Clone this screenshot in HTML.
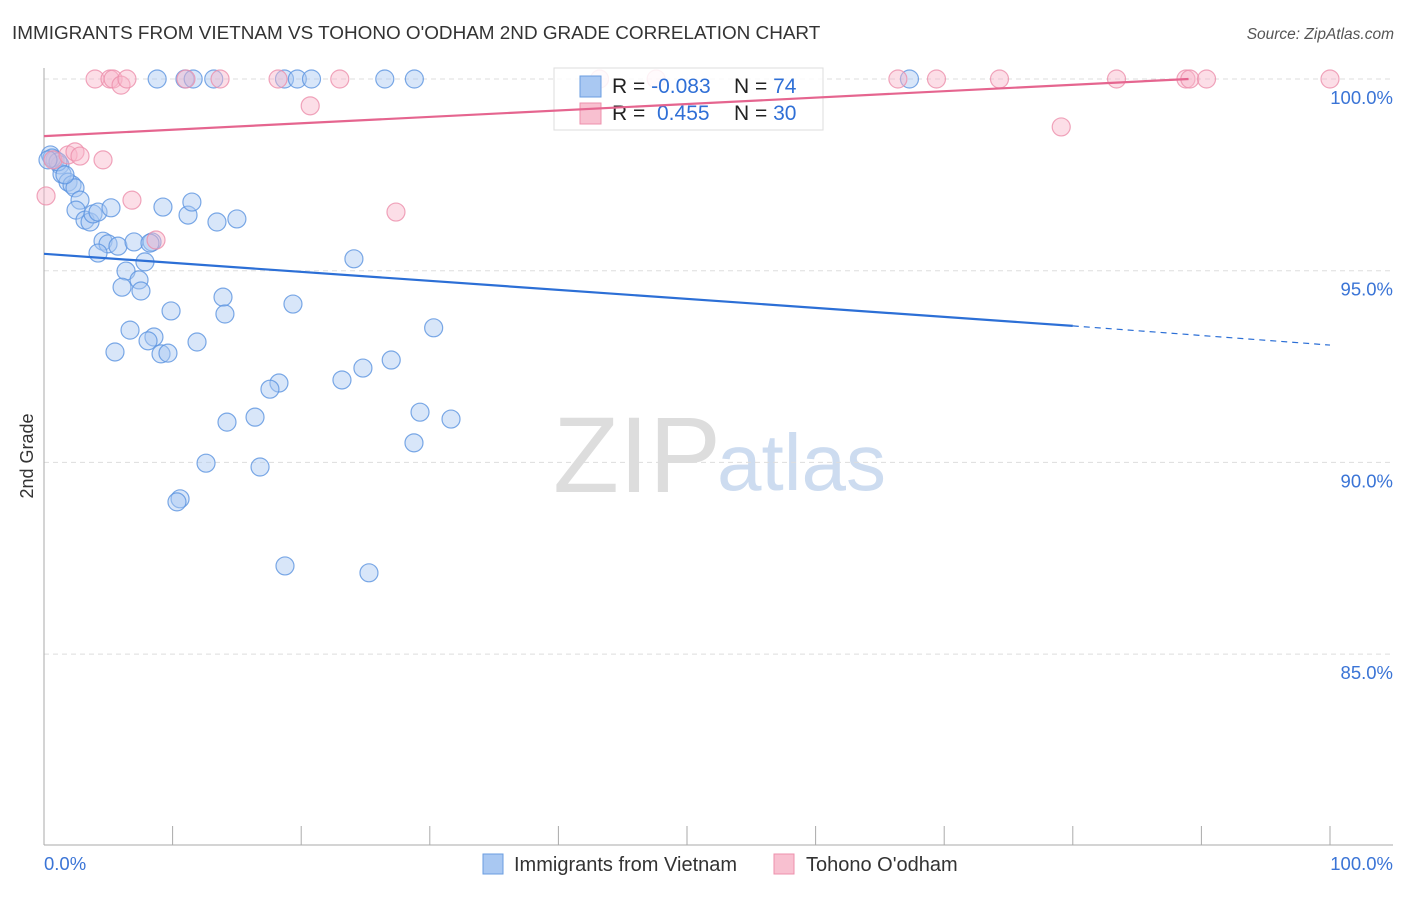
<!DOCTYPE html>
<html><head><meta charset="utf-8"><style>
body{margin:0;background:#fff;font-family:"Liberation Sans",sans-serif;}
svg text{font-family:"Liberation Sans",sans-serif;}
</style></head><body>
<svg id="chart" width="1406" height="892" xmlns="http://www.w3.org/2000/svg">
<text x="12" y="39" font-size="18.9" fill="#333">IMMIGRANTS FROM VIETNAM VS TOHONO O'ODHAM 2ND GRADE CORRELATION CHART</text>
<text x="1394" y="39" font-size="15.5" fill="#555" text-anchor="end" font-style="italic">Source: ZipAtlas.com</text>
<text transform="translate(33,456) rotate(-90)" font-size="18" fill="#333" text-anchor="middle">2nd Grade</text>
<g><text x="553" y="492" font-size="108" fill="#ddd" font-family="Liberation Serif">ZIP</text><text x="717" y="490" font-size="80" fill="#cddcf0">atlas</text></g>
<g id="grid"></g>
<g id="axes"></g>
<g id="blue"></g>
<g id="pink"></g>
<g>
<rect x="554" y="68" width="269" height="62" fill="#fff" fill-opacity="0.85" stroke="#ddd"/>
<rect x="580" y="76" width="21" height="21" fill="#a9c8f2" stroke="#6a9de0"/>
<rect x="580" y="103" width="21" height="21" fill="#f8c0d0" stroke="#ee90ac"/>
<text x="612" y="93" font-size="21" fill="#222">R = <tspan fill="#2f6fd6">-0.083</tspan></text>
<text x="734" y="93" font-size="21" fill="#222">N = <tspan fill="#2f6fd6"> 74</tspan></text>
<text x="612" y="120" font-size="21" fill="#222">R = <tspan fill="#2f6fd6" x="657">0.455</tspan></text>
<text x="734" y="120" font-size="21" fill="#222">N = <tspan fill="#2f6fd6"> 30</tspan></text>
</g>
<g id="lines"></g>
<g>
<rect x="483" y="854" width="20" height="20" fill="#a9c8f2" stroke="#6a9de0"/>
<text x="514" y="871" font-size="20" fill="#333">Immigrants from Vietnam</text>
<rect x="774" y="854" width="20" height="20" fill="#f8c0d0" stroke="#ee90ac"/>
<text x="806" y="871" font-size="20" fill="#333">Tohono O'odham</text>
</g>
</svg>
<script>
const yTicks=[100,95,90,85];
const yTickLabels=["100.0%","95.0%","90.0%","85.0%"];
const xTickLabels=["0.0%","100.0%"];
const blueX=[8.8,10.96,11.6,13.2,18.7,19.7,20.8,26.5,28.8,67.3,0.5,0.86,1.24,1.4,1.87,2.18,2.41,2.8,2.49,3.19,3.58,3.81,4.2,5.21,9.25,11.2,11.5,13.45,15.0,4.59,4.98,5.75,7.0,8.4,4.2,7.85,6.38,7.39,6.07,7.54,13.92,19.36,24.1,9.88,14.07,6.69,8.55,8.09,11.9,5.52,9.1,9.64,30.3,27.0,24.8,23.17,18.27,17.57,29.24,31.65,14.23,16.41,28.77,12.6,16.8,10.58,10.34,18.74,25.27,0.62,1.09,1.63,0.31,8.24];
const blueY=[100,100,100,100,100,100,100,100,100,100,98.02,97.89,97.76,97.52,97.31,97.24,97.16,96.84,96.58,96.32,96.27,96.48,96.53,96.64,96.66,96.45,96.79,96.27,96.35,95.77,95.7,95.64,95.75,95.75,95.46,95.23,94.99,94.76,94.57,94.47,94.31,94.13,95.31,93.95,93.87,93.45,93.27,93.17,93.14,92.88,92.83,92.85,93.51,92.67,92.46,92.15,92.07,91.91,91.31,91.13,91.05,91.18,90.51,89.98,89.88,89.05,88.97,87.3,87.12,97.94,97.84,97.5,97.89,95.72];
const pinkX=[3.97,5.13,5.37,5.99,6.45,11.04,13.69,18.2,23.0,43.2,47.6,66.4,69.4,74.3,83.4,88.8,89.1,90.4,100,20.7,79.1,0.7,1.87,2.41,2.8,4.59,6.84,8.71,27.37,0.16];
const pinkY=[100,100,100,99.84,100,100,100,100,100,100,100,100,100,100,100,100,100,100,100,99.3,98.75,97.89,98.02,98.1,97.99,97.89,96.84,95.8,96.53,96.95];
const blueTrend=[95.44,93.56,93.06]; // at x=0,80,100
const pinkTrend=[98.51,100]; // at x=0,89
const NS="http://www.w3.org/2000/svg";
const sx=v=>44+v*12.86;
const sy=v=>79+(100-v)*38.34;
function mk(tag,attrs,parent){const e=document.createElementNS(NS,tag);for(const k in attrs)e.setAttribute(k,attrs[k]);parent.appendChild(e);return e;}
const grid=document.getElementById('grid'),axes=document.getElementById('axes');
yTicks.forEach((t,i)=>{
  const l=mk('line',{x1:44,x2:1393,y1:sy(t),y2:sy(t),stroke:'#ddd','stroke-dasharray':'5,4'},grid);
  
  
  const tx=mk('text',{x:1393,y:sy(t)+25,'font-size':18.5,fill:'#3a74d6','text-anchor':'end'},axes);
  tx.textContent=yTickLabels[i];
  
  
});
const ya=mk('line',{x1:44,x2:44,y1:68,y2:845,stroke:'#aaa'},axes);


const xa=mk('line',{x1:44,x2:1393,y1:845,y2:845,stroke:'#aaa'},axes);


for(let i=0;i<=10;i++){
  const t=mk('line',{x1:sx(i*10),x2:sx(i*10),y1:826,y2:845,stroke:'#aaa'},axes);
  
  
}
const xl0=mk('text',{x:44,y:870,'font-size':18.5,fill:'#3a74d6'},axes);xl0.textContent=xTickLabels[0];


const xl1=mk('text',{x:1393,y:870,'font-size':18.5,fill:'#3a74d6','text-anchor':'end'},axes);xl1.textContent=xTickLabels[1];


function pts(xs,ys,g,fill,stroke,name){xs.forEach((x,i)=>{
  const c=mk('circle',{cx:sx(x),cy:sy(ys[i]),r:9,fill:fill,'fill-opacity':0.45,stroke:stroke,'stroke-width':1.2,'stroke-opacity':0.8},g);
  
  
});}
pts(pinkX,pinkY,document.getElementById('pink'),'#f8b6c9','#ec8fab','tohono-point');
pts(blueX,blueY,document.getElementById('blue'),'#a9c8f2','#5b93e0','vietnam-point');
const lines=document.getElementById('lines');
const b1=mk('line',{x1:sx(0),y1:sy(blueTrend[0]),x2:sx(80),y2:sy(blueTrend[1]),stroke:'#2c6fd6','stroke-width':2.2},lines);


const b2=mk('line',{x1:sx(80),y1:sy(blueTrend[1]),x2:sx(100),y2:sy(blueTrend[2]),stroke:'#2c6fd6','stroke-width':1.2,'stroke-dasharray':'6,5'},lines);


const p1=mk('line',{x1:sx(0),y1:sy(pinkTrend[0]),x2:sx(89),y2:sy(pinkTrend[1]),stroke:'#e5658f','stroke-width':2.2},lines);


</script>
</body></html>
